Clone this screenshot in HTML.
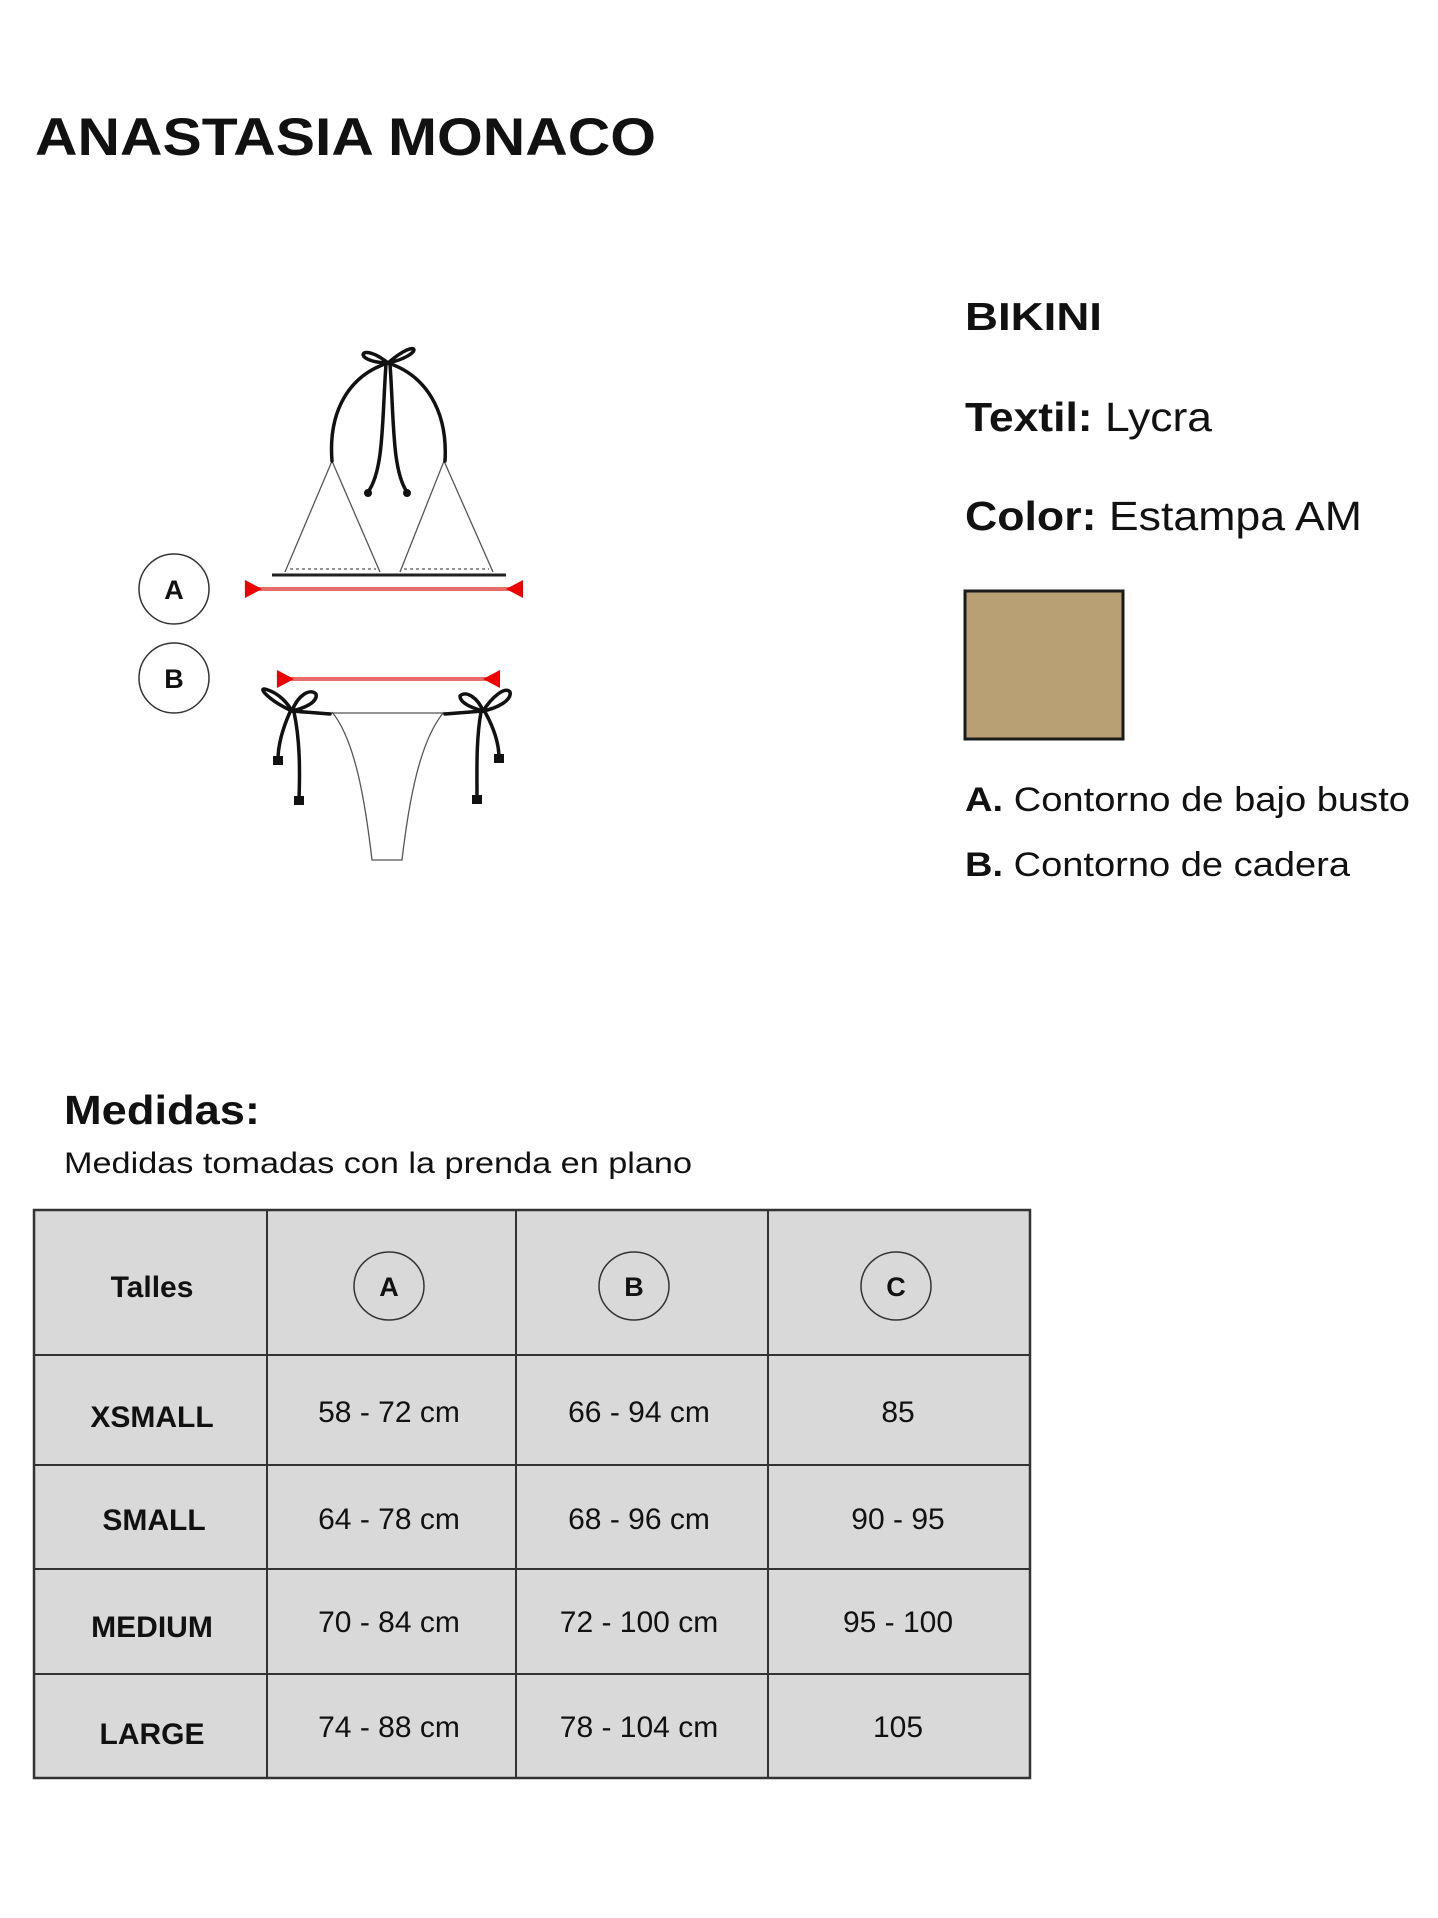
<!DOCTYPE html>
<html><head><meta charset="utf-8"><style>
html,body{margin:0;padding:0;background:#fff}
svg{display:block}
text{font-family:"Liberation Sans",Arial,sans-serif;fill:#111}
.b{font-weight:bold}
</style></head><body>
<svg width="1438" height="1918" viewBox="0 0 1438 1918" xmlns="http://www.w3.org/2000/svg">
<rect width="1438" height="1918" fill="#fff"/>
<text x="35" y="155" class="b" font-size="53" textLength="621" lengthAdjust="spacingAndGlyphs">ANASTASIA MONACO</text>

<text x="965" y="330" class="b" font-size="39" textLength="137" lengthAdjust="spacingAndGlyphs">BIKINI</text>
<text x="965" y="431" font-size="41" textLength="247" lengthAdjust="spacingAndGlyphs"><tspan class="b">Textil:</tspan> Lycra</text>
<text x="965" y="530" font-size="41" textLength="397" lengthAdjust="spacingAndGlyphs"><tspan class="b">Color:</tspan> Estampa AM</text>
<rect x="965" y="591" width="158" height="148" fill="#b99f74" stroke="#1a1a1a" stroke-width="3"/>
<text x="965" y="811" font-size="34" textLength="445" lengthAdjust="spacingAndGlyphs"><tspan class="b">A.</tspan> Contorno de bajo busto</text>
<text x="965" y="876" font-size="34" textLength="385" lengthAdjust="spacingAndGlyphs"><tspan class="b">B.</tspan> Contorno de cadera</text>

<ellipse cx="174" cy="589" rx="35" ry="35" fill="none" stroke="#333" stroke-width="1.5"/>
<text x="174" y="599" class="b" font-size="27" text-anchor="middle">A</text>
<ellipse cx="174" cy="678" rx="35" ry="35" fill="none" stroke="#333" stroke-width="1.5"/>
<text x="174" y="688" class="b" font-size="27" text-anchor="middle">B</text>

<line x1="245" y1="589" x2="523" y2="589" stroke="#e86b6b" stroke-width="4"/>
<polygon points="245,580 245,598 262,589" fill="#e00"/>
<polygon points="523,580 523,598 506,589" fill="#e00"/>
<line x1="277" y1="679" x2="500" y2="679" stroke="#e86b6b" stroke-width="4"/>
<polygon points="277,670 277,688 294,679" fill="#e00"/>
<polygon points="500,670 500,688 483,679" fill="#e00"/>

<g fill="none" stroke="#555" stroke-width="1.3">
<polyline points="285,572 332,461 380,572"/>
<polyline points="400,572 444,461 493,572"/>
<line x1="290" y1="569" x2="376" y2="569" stroke-dasharray="3,3"/>
<line x1="404" y1="569" x2="489" y2="569" stroke-dasharray="3,3"/>
</g>
<line x1="272" y1="575" x2="506" y2="575" stroke="#222" stroke-width="3"/>
<g fill="none" stroke="#111" stroke-width="3.5" stroke-linecap="round">
<path d="M332,461 C328,410 350,375 388,363"/>
<path d="M445,461 C448,410 425,375 388,363"/>
<path d="M388,363 C360,340 350,362 388,363"/>
<path d="M388,363 C420,335 425,355 388,363"/>
<path d="M386,364 C382,420 384,470 368,492"/>
<path d="M390,364 C394,420 392,470 407,492"/>
</g>

<g fill="none" stroke="#555" stroke-width="1.3">
<line x1="300" y1="713" x2="470" y2="713"/>
<path d="M332,712 C355,740 365,800 372,860 L402,860 C409,800 420,740 444,712"/>
</g>
<g fill="none" stroke="#111" stroke-width="3.5" stroke-linecap="round">
<path d="M292,711 C268,700 255,685 268,690 C280,694 288,704 292,711"/>
<path d="M292,711 C298,695 310,688 316,694 C318,702 305,708 292,711"/>
<path d="M292,711 L330,714"/>
<path d="M290,712 C282,730 278,745 278,760"/>
<path d="M294,712 C300,740 300,770 299,800"/>
<path d="M483,711 C492,697 505,686 510,692 C512,700 498,708 483,711"/>
<path d="M483,711 C478,698 466,690 460,696 C460,703 472,708 483,711"/>
<path d="M483,711 L445,714"/>
<path d="M485,712 C495,730 499,745 499,758"/>
<path d="M481,712 C476,740 477,770 477,799"/>
</g>
<g fill="#111">
<rect x="273" y="756" width="10" height="9"/><rect x="294" y="796" width="10" height="9"/>
<rect x="494" y="754" width="10" height="9"/><rect x="472" y="795" width="10" height="9"/>
<circle cx="368" cy="493" r="4"/><circle cx="407" cy="493" r="4"/>
</g>

<text x="64" y="1124" class="b" font-size="41" textLength="196" lengthAdjust="spacingAndGlyphs">Medidas:</text>
<text x="64" y="1173" font-size="30" fill="#333" textLength="628" lengthAdjust="spacingAndGlyphs">Medidas tomadas con la prenda en plano</text>

<rect x="34" y="1210" width="996" height="568" fill="#d9d9d9" stroke="#333" stroke-width="2.5"/>
<g stroke="#333" stroke-width="2">
<line x1="267" y1="1210" x2="267" y2="1778"/>
<line x1="516" y1="1210" x2="516" y2="1778"/>
<line x1="768" y1="1210" x2="768" y2="1778"/>
<line x1="34" y1="1355" x2="1030" y2="1355"/>
<line x1="34" y1="1465" x2="1030" y2="1465"/>
<line x1="34" y1="1569" x2="1030" y2="1569"/>
<line x1="34" y1="1674" x2="1030" y2="1674"/>
</g>
<g fill="none" stroke="#333" stroke-width="1.5">
<ellipse cx="389" cy="1286" rx="35" ry="34"/>
<ellipse cx="634" cy="1286" rx="35" ry="34"/>
<ellipse cx="896" cy="1286" rx="35" ry="34"/>
</g>
<g font-size="30" text-anchor="middle">
<text x="152" y="1297" class="b">Talles</text>
<text x="389" y="1296" class="b" font-size="27">A</text>
<text x="634" y="1296" class="b" font-size="27">B</text>
<text x="896" y="1296" class="b" font-size="27">C</text>
<text x="152" y="1427" class="b">XSMALL</text>
<text x="154" y="1530" class="b">SMALL</text>
<text x="152" y="1637" class="b">MEDIUM</text>
<text x="152" y="1744" class="b">LARGE</text>
<g fill="#333">
<text x="389" y="1422">58 - 72 cm</text>
<text x="639" y="1422">66 - 94 cm</text>
<text x="898" y="1422">85</text>
<text x="389" y="1529">64 - 78 cm</text>
<text x="639" y="1529">68 - 96 cm</text>
<text x="898" y="1529">90 - 95</text>
<text x="389" y="1632">70 - 84 cm</text>
<text x="639" y="1632">72 - 100 cm</text>
<text x="898" y="1632">95 - 100</text>
<text x="389" y="1737">74 - 88 cm</text>
<text x="639" y="1737">78 - 104 cm</text>
<text x="898" y="1737">105</text>
</g>
</g>
</svg>
</body></html>
